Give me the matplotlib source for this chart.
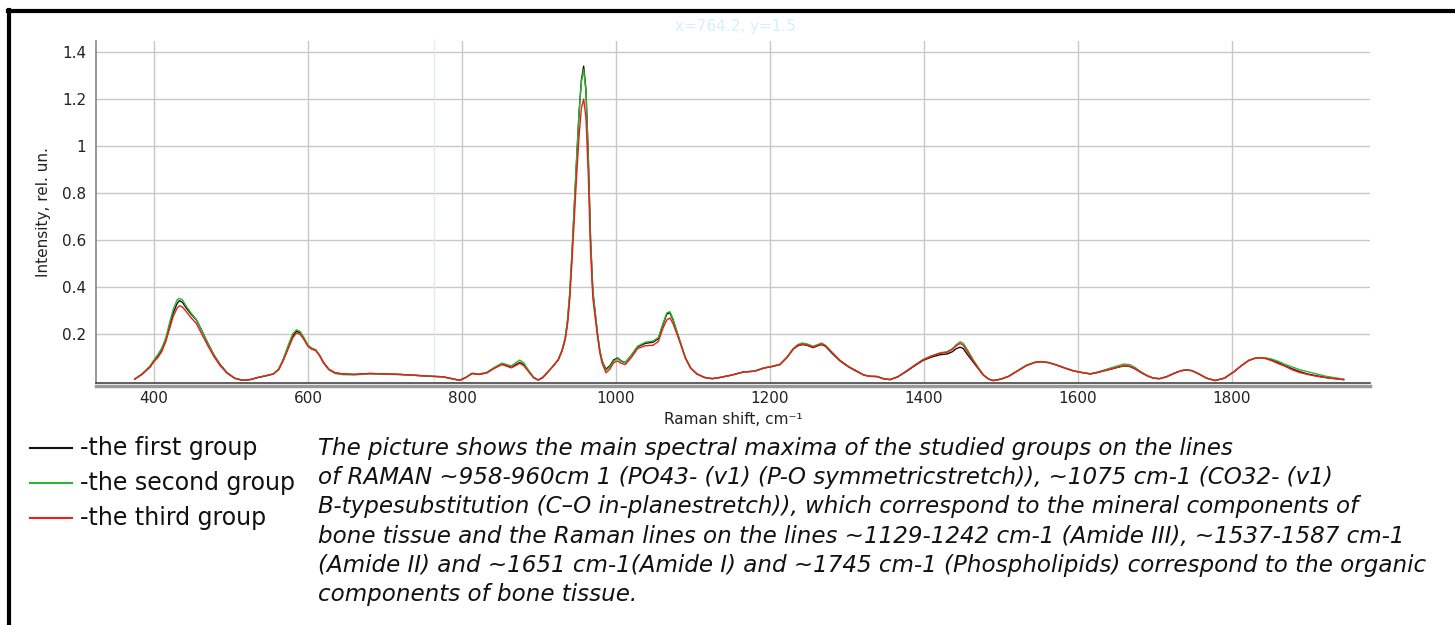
import matplotlib
matplotlib.use("Agg")
import matplotlib.pyplot as plt
from matplotlib.lines import Line2D

# ---------------- data ----------------
raman_shift = [
    375, 385, 395, 400, 405, 410, 415, 420, 425, 430,
    433, 437, 442, 448, 455, 462, 470, 478, 486, 495,
    505, 515, 525, 535, 545, 555, 562, 568, 574, 580,
    585, 590, 595, 600, 605, 610, 615, 620, 627, 635,
    645, 660, 680, 700, 720, 740, 760, 775, 790, 797,
    805, 813, 822, 832, 842, 852, 858, 864, 870, 875,
    880, 887, 893, 899, 905, 912, 918, 925, 930, 934,
    937, 940, 943, 946, 949, 952, 955, 958, 961, 964,
    967, 970, 973, 976, 979, 982, 987, 992, 997, 1002,
    1007, 1012, 1020, 1028, 1038, 1048, 1055, 1061, 1066, 1070,
    1074, 1078, 1083, 1090, 1097, 1105, 1115, 1125, 1135, 1150,
    1165, 1180, 1192, 1203, 1213, 1222, 1230, 1236, 1242, 1248,
    1256, 1262, 1267, 1272, 1280, 1291, 1302, 1313, 1322, 1330,
    1339, 1347, 1356, 1366, 1377, 1388, 1399, 1410, 1421, 1430,
    1437, 1442, 1447, 1451, 1457, 1464, 1471, 1477, 1484, 1490,
    1500, 1510, 1520, 1533, 1545, 1553, 1562, 1572, 1583, 1594,
    1605, 1616, 1625, 1633, 1642, 1651, 1659, 1667, 1674, 1681,
    1690, 1698, 1706, 1715, 1725, 1734, 1741, 1748, 1757, 1767,
    1778, 1790, 1802, 1812, 1822, 1830, 1836, 1843, 1851, 1860,
    1868, 1878, 1888, 1898, 1910, 1922, 1935, 1945,
]

first_group = [
    .008, .03, .06, .085, .105, .13, .17, .23, .29, .33,
    .342, .335, .31, .285, .26, .215, .16, .11, .07, .035,
    .012, .003, .006, .015, .022, .03, .05, .09, .14, .19,
    .212, .205, .18, .15, .138, .132, .11, .08, .05, .035,
    .03, .028, .032, .03, .028, .024, .02, .018, .008, .003,
    .015, .032, .028, .035, .055, .072, .066, .058, .07, .079,
    .07, .04, .015, .004, .015, .04, .062, .09, .13, .18,
    .25, .37, .55, .75, .95, 1.14, 1.28, 1.34, 1.24, .96,
    .6, .38, .29, .2, .13, .085, .05, .065, .09, .098,
    .085, .078, .11, .145, .16, .165, .18, .24, .285, .29,
    .26, .22, .17, .10, .055, .03, .015, .01, .015, .025,
    .038, .042, .055, .062, .07, .1, .135, .15, .155, .152,
    .142, .15, .155, .148, .12, .085, .06, .04, .025, .02,
    .019, .01, .006, .018, .04, .065, .088, .102, .112, .115,
    .125, .138, .144, .138, .11, .08, .05, .025, .008, .002,
    .008, .02, .04, .066, .08, .082, .078, .068, .055, .043,
    .036, .03, .036, .043, .05, .058, .064, .062, .052, .038,
    .022, .012, .01, .018, .033, .044, .047, .044, .03, .012,
    .002, .012, .038, .065, .088, .097, .099, .097, .09, .078,
    .066, .052, .04, .03, .022, .015, .01, .006,
]

second_group = [
    .008, .032, .065, .09, .112, .14, .18, .245, .305, .345,
    .352, .345, .318, .29, .262, .215, .16, .108, .068, .034,
    .012, .003, .006, .015, .022, .03, .052, .095, .15, .2,
    .218, .21, .183, .152, .14, .133, .11, .078, .048, .032,
    .027, .026, .03, .029, .027, .024, .02, .018, .008, .003,
    .015, .033, .03, .037, .058, .076, .07, .064, .078, .089,
    .078, .043, .016, .004, .015, .04, .063, .092, .133, .185,
    .26, .38, .56, .76, .96, 1.14, 1.27, 1.325, 1.23, .95,
    .6, .38, .29, .2, .13, .085, .045, .06, .085, .095,
    .083, .078, .11, .148, .165, .17, .185, .245, .29, .295,
    .265, .222, .172, .10, .055, .03, .015, .01, .015, .025,
    .038, .042, .056, .063, .072, .102, .138, .155, .162, .158,
    .148, .155, .162, .152, .125, .088, .062, .042, .026, .02,
    .019, .01, .006, .018, .042, .068, .092, .108, .12, .125,
    .138, .155, .167, .16, .13, .09, .055, .027, .008, .002,
    .008, .02, .041, .067, .081, .083, .079, .069, .056, .044,
    .037, .031, .038, .046, .055, .064, .072, .07, .058, .041,
    .023, .012, .01, .018, .033, .044, .047, .044, .03, .012,
    .002, .012, .038, .065, .088, .097, .1, .099, .094, .084,
    .072, .06, .048, .04, .03, .02, .013, .008,
]

third_group = [
    .008, .03, .06, .083, .1, .125, .165, .22, .275, .31,
    .32, .315, .295, .27, .245, .2, .15, .103, .065, .033,
    .011, .003, .006, .015, .022, .03, .048, .088, .135, .182,
    .205, .198, .175, .147, .135, .13, .108, .078, .05, .035,
    .03, .028, .032, .03, .028, .024, .02, .018, .008, .003,
    .015, .032, .028, .034, .054, .07, .063, .056, .066, .075,
    .066, .038, .014, .004, .015, .04, .062, .09, .128, .175,
    .24, .35, .52, .7, .88, 1.04, 1.16, 1.2, 1.12, .88,
    .55, .35, .27, .19, .12, .075, .035, .05, .078, .085,
    .075, .07, .1, .138, .15, .152, .168, .225, .26, .268,
    .245, .21, .165, .098, .054, .03, .015, .01, .015, .025,
    .038, .042, .055, .062, .07, .1, .135, .152, .157, .154,
    .144, .152, .157, .15, .122, .087, .061, .041, .025, .02,
    .019, .01, .006, .018, .042, .067, .09, .106, .118, .122,
    .135, .15, .16, .152, .122, .085, .052, .026, .008, .002,
    .008, .02, .04, .066, .08, .082, .078, .068, .055, .043,
    .036, .03, .036, .043, .05, .058, .065, .063, .053, .038,
    .022, .012, .01, .018, .033, .044, .047, .044, .03, .012,
    .002, .012, .038, .065, .088, .097, .099, .096, .087, .074,
    .064, .048, .036, .028, .02, .014, .009, .006,
]

x_ticks = [400, 600, 800, 1000, 1200, 1400, 1600, 1800]
y_ticks = [0.2, 0.4, 0.6, 0.8, 1.0, 1.2, 1.4]
y_tick_labels = ["0.2", "0.4", "0.6", "0.8", "1", "1.2", "1.4"]

legend_labels = ["-the first group", "-the second group", "-the third group"]
series_colors = ["#111111", "#2db52d", "#ee1c1c"]

caption_lines = [
    "The picture shows the main spectral maxima of the studied groups on the lines",
    "of RAMAN ~958-960cm 1 (PO43- (v1) (P-O symmetricstretch)), ~1075 cm-1 (CO32- (v1)",
    "B-typesubstitution (C\u2013O in-planestretch)), which correspond to the mineral components of",
    "bone tissue and the Raman lines on the lines ~1129-1242 cm-1 (Amide III), ~1537-1587 cm-1",
    "(Amide II) and ~1651 cm-1(Amide I) and ~1745 cm-1 (Phospholipids) correspond to the organic",
    "components of bone tissue.",
]

cursor_x = 764.2
cursor_text = "x=764.2, y=1.5"

# ---------------- figure ----------------
W, H = 1455, 625
fig = plt.figure(figsize=(W / 100, H / 100), dpi=100)
fig.patch.set_facecolor("white")

def fx(px):
    return px / W

def fy(py):
    return 1 - py / H

ax = fig.add_axes([fx(96), fy(383), fx(1370) - fx(96), fy(41) - fy(383)])
ax.set_xlim(324.7, 1979.2)
ax.set_ylim(-0.0085, 1.447)

ax.axvline(cursor_x, color="#dcedf8", lw=1.0, zorder=1)

series = [first_group, second_group, third_group]
order = [1, 0, 2]
for i in order:
    ax.plot(raman_shift, series[i], color=series_colors[i], lw=1.0, zorder=3 + i)

ax.set_xticks(x_ticks)
ax.set_yticks(y_ticks)
ax.set_yticklabels(y_tick_labels)
ax.tick_params(axis="both", length=0, labelsize=11, colors="#222222", pad=6)
ax.tick_params(axis="y", pad=7)
ax.grid(True, color="#c8c8c8", lw=1.0)
ax.set_axisbelow(True)
for s in ["top", "right"]:
    ax.spines[s].set_visible(False)
ax.spines["left"].set_color("#888888")
ax.spines["bottom"].set_color("#444444")
ax.spines["left"].set_linewidth(1.2)
ax.spines["bottom"].set_linewidth(1.2)

ax.set_xlabel("Raman shift, cm\u207b\u00b9", fontsize=11, color="#222222", labelpad=4)
ax.set_ylabel("Intensity, rel. un.", fontsize=11, color="#222222", labelpad=8)

# second (gray) line under the x axis
fig.add_artist(Line2D([fx(96), fx(1370)], [fy(386), fy(386)], color="#999999", lw=2.5))

# frame lines (top and left)
fig.add_artist(Line2D([fx(8), 1.0], [fy(11), fy(11)], color="black", lw=3))
fig.add_artist(Line2D([fx(9), fx(9)], [fy(10), 0.0], color="black", lw=3))

# cursor readout
fig.text(fx(735), fy(27), cursor_text, color="#d3f1fa", fontsize=11, ha="center", va="center")

# legend
for k, (lab, col) in enumerate(zip(legend_labels, series_colors)):
    yy = fy(448 + 35 * k)
    fig.add_artist(Line2D([fx(30), fx(72)], [yy, yy], color=col, lw=1.5))
    fig.text(fx(80), yy, lab, fontsize=17, family="DejaVu Sans", color="#111111",
             ha="left", va="center")

# caption
for k, line in enumerate(caption_lines):
    fig.text(fx(318), fy(448 + 29.4 * k), line, fontsize=16.6, family="DejaVu Sans",
             style="italic", color="#111111", ha="left", va="center")

fig.savefig("out.png", dpi=100, facecolor="white")
